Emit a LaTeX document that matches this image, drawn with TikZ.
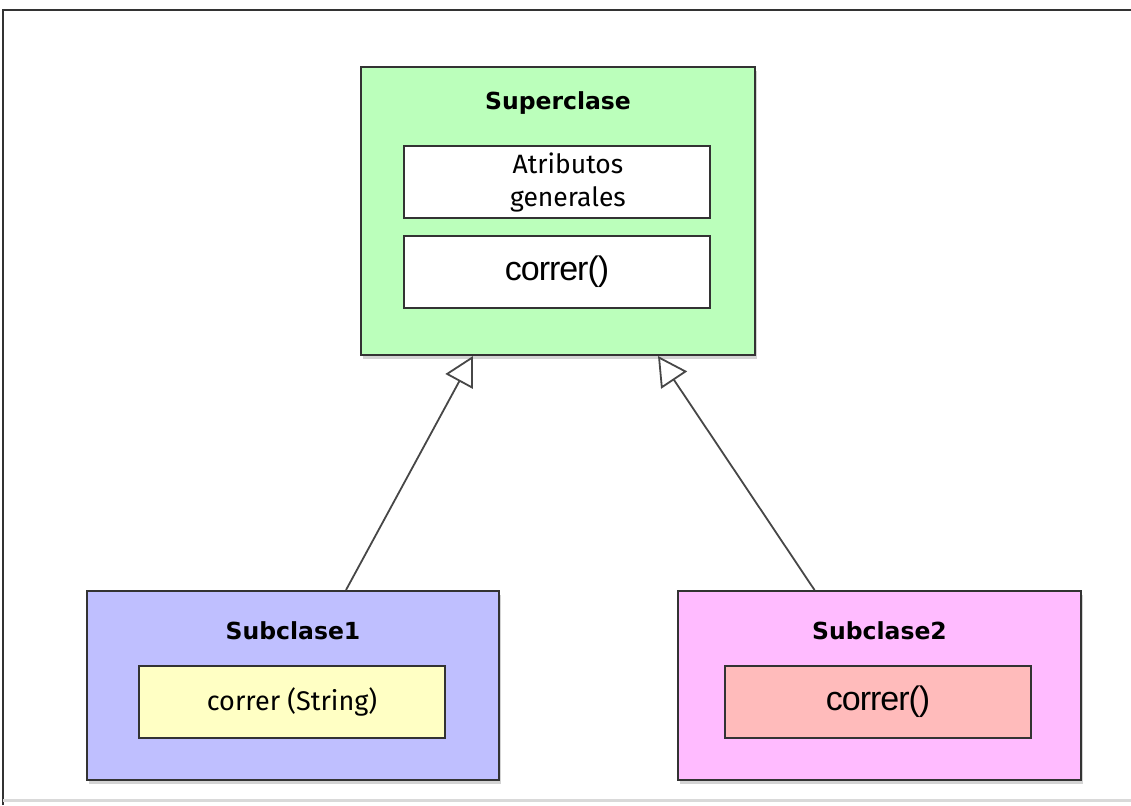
\documentclass[tikz,border=0pt]{standalone}
\usepackage{fontspec}
\setmainfont{Fira Sans}
\newfontfamily\titlefont{DejaVu Sans}
\newfontfamily\arialfont[LetterSpace=-3]{Liberation Sans}
\usetikzlibrary{arrows.meta,shadows}
\definecolor{supgreen}{HTML}{BBFFBB}
\definecolor{subblue}{HTML}{BFBFFF}
\definecolor{submagenta}{HTML}{FFBBFF}
\definecolor{methyellow}{HTML}{FFFFC4}
\definecolor{methpink}{HTML}{FFBBBB}
\definecolor{frameline}{HTML}{333333}
\begin{document}
\begin{tikzpicture}[x=1pt,y=-1pt,
    classbox/.style={draw=frameline, line width=2pt, rectangle, inner sep=0pt,
        drop shadow={shadow xshift=2pt, shadow yshift=-4pt, opacity=0.35}},
    memberbox/.style={draw=frameline, line width=1.8pt, rectangle, inner sep=0pt,
        minimum width=306pt, minimum height=72pt, align=center},
    classtitle/.style={font=\titlefont\bfseries\fontsize{23.5}{26}\selectfont},
    inherits/.style={draw=frameline!90, line width=1.8pt,
        -{Triangle[open, length=29pt, width=31pt, line width=1.8pt]}}]
  \useasboundingbox (0,0) rectangle (1131,805);
  % frame round the picture
  \draw[line width=2.5pt, frameline] (3,805) -- (3,10) -- (1131,10);
  \draw[line width=3pt, black!15] (3,800) -- (1131,800);
  % superclass
  \node[classbox, fill=supgreen, minimum width=394pt, minimum height=288pt] (super) at (558,211) {};
  \node[classtitle] (superT) at ([yshift=-37pt]super.north) {Superclase};
  \node[memberbox, fill=white, font=\fontsize{26.5}{33}\selectfont] (attrs) at (557,182) {\hspace*{22pt}Atributos\\\hspace*{22pt}generales};
  \node[memberbox, fill=white, font=\arialfont\fontsize{34}{36}\selectfont] (superRun) at (557,272) {correr()};
  % first subclass
  \node[classbox, fill=subblue, minimum width=412pt, minimum height=189pt] (subA) at (293,685.5) {};
  \node[classtitle] (subAT) at ([yshift=-41pt]subA.north) {Subclase1};
  \node[memberbox, fill=methyellow, font=\fontsize{27}{30}\selectfont] (subARun) at (292,702) {correr (String)};
  % second subclass
  \node[classbox, fill=submagenta, minimum width=403pt, minimum height=189pt] (subB) at (879.5,685.5) {};
  \node[classtitle] (subBT) at ([yshift=-41pt]subB.north) {Subclase2};
  \node[memberbox, fill=methpink, font=\arialfont\fontsize{34}{36}\selectfont] (subBRun) at (878,702) {correr()};
  % inheritance
  \draw[inherits] ([xshift=53pt]subA.north) -- ([xshift=-85pt]super.south);
  \draw[inherits] ([xshift=-65pt]subB.north) -- ([xshift=100pt]super.south);
\end{tikzpicture}
\end{document}
